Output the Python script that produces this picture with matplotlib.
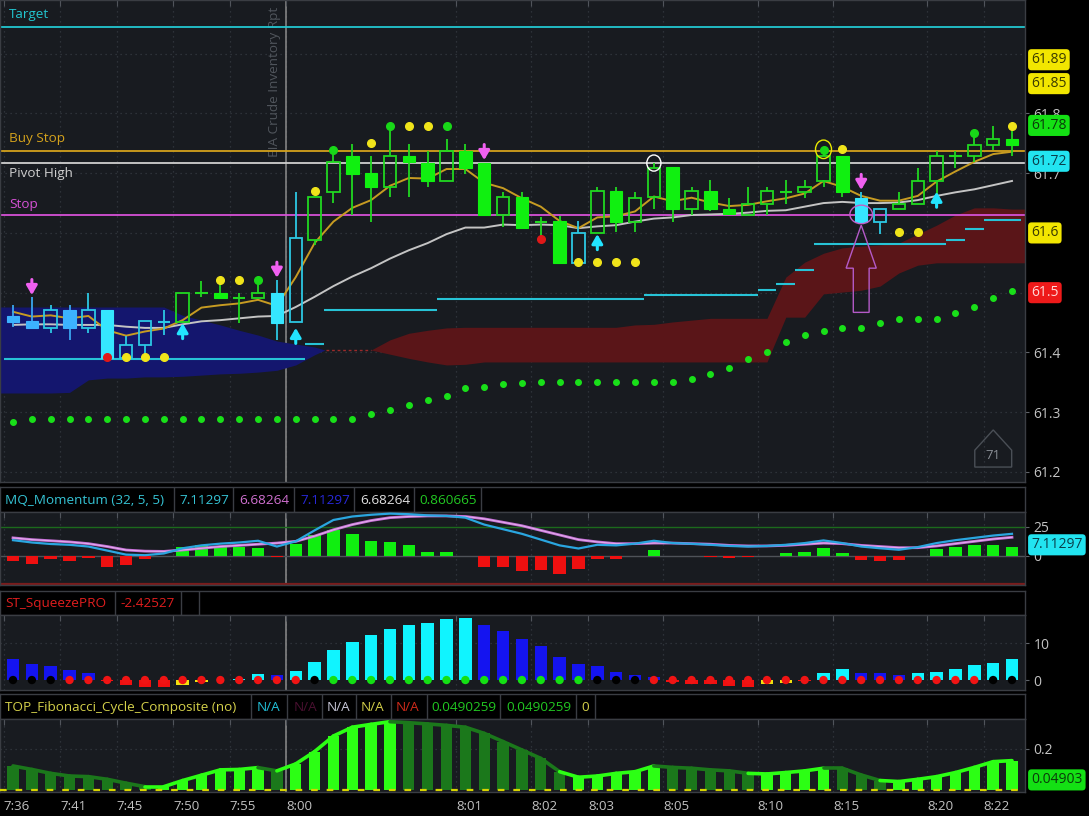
import numpy as np
import matplotlib
matplotlib.use("Agg")
import matplotlib.pyplot as plt
from matplotlib.patches import Rectangle, Ellipse, Polygon
from matplotlib.transforms import blended_transform_factory as blend

plt.rcParams['font.family'] = ['Open Sans', 'DejaVu Sans']

# ---------------- data ----------------
time_ticks = [-0.5, 2.5, 5.5, 8.5, 11.5, 14.5, 23.5, 27.5, 30.5, 34.5, 39.5, 43.5, 48.5, 51.5]
time_labels = ['7:36', '7:41', '7:45', '7:50', '7:55', '8:00', '8:01', '8:02', '8:03',
               '8:05', '8:10', '8:15', '8:20', '8:22']
event_pos = 14.5
event_label = 'EIA Crude Inventory Rpt'

opens = [61.461, 61.452, 61.441, 61.471, 61.441, 61.471, 61.390, 61.412, 61.451, 61.451,
         61.500, 61.500, 61.491, 61.491, 61.500, 61.451, 61.589, 61.669, 61.729, 61.700,
         61.677, 61.729, 61.717, 61.687, 61.738, 61.717, 61.630, 61.660, 61.619, 61.620,
         61.549, 61.600, 61.670, 61.619, 61.661, 61.710, 61.640, 61.670, 61.640, 61.630,
         61.648, 61.669, 61.669, 61.687, 61.729, 61.659, 61.619, 61.640, 61.648, 61.687,
         61.728, 61.728, 61.748, 61.757]
highs = [61.480, 61.493, 61.480, 61.480, 61.500, 61.471, 61.427, 61.452, 61.471, 61.500,
         61.520, 61.521, 61.499, 61.521, 61.521, 61.669, 61.660, 61.739, 61.749, 61.728,
         61.779, 61.749, 61.738, 61.757, 61.749, 61.717, 61.669, 61.669, 61.627, 61.628,
         61.620, 61.677, 61.677, 61.669, 61.717, 61.710, 61.677, 61.689, 61.658, 61.677,
         61.677, 61.689, 61.689, 61.739, 61.729, 61.669, 61.640, 61.669, 61.708, 61.738,
         61.738, 61.767, 61.779, 61.772]
lows = [61.443, 61.439, 61.432, 61.421, 61.432, 61.390, 61.390, 61.392, 61.429, 61.449,
        61.492, 61.491, 61.450, 61.491, 61.421, 61.451, 61.580, 61.650, 61.630, 61.619,
        61.660, 61.660, 61.677, 61.687, 61.698, 61.630, 61.610, 61.608, 61.594, 61.549,
        61.549, 61.600, 61.602, 61.602, 61.640, 61.619, 61.630, 61.636, 61.631, 61.630,
        61.630, 61.648, 61.658, 61.677, 61.661, 61.617, 61.599, 61.640, 61.648, 61.662,
        61.708, 61.718, 61.739, 61.728]
closes = [61.451, 61.441, 61.471, 61.441, 61.471, 61.390, 61.412, 61.452, 61.451, 61.500,
          61.500, 61.491, 61.491, 61.500, 61.450, 61.591, 61.660, 61.718, 61.698, 61.677,
          61.728, 61.718, 61.687, 61.738, 61.708, 61.630, 61.660, 61.608, 61.619, 61.549,
          61.600, 61.670, 61.619, 61.659, 61.708, 61.640, 61.670, 61.640, 61.631, 61.648,
          61.670, 61.669, 61.677, 61.728, 61.669, 61.619, 61.640, 61.648, 61.687, 61.728,
          61.728, 61.748, 61.757, 61.748]
candle_kind = ['b', 'b', 'c', 'b', 'c', 'c', 'c', 'c', 'c', 'g',
               'g', 'g', 'g', 'g', 'c', 'c', 'g', 'g', 'g', 'g',
               'g', 'g', 'g', 'g', 'g', 'g', 'g', 'g', 'g', 'g',
               'c', 'g', 'g', 'g', 'g', 'g', 'g', 'g', 'g', 'g',
               'g', 'g', 'g', 'g', 'g', 'c', 'c', 'g', 'g', 'g',
               'g', 'g', 'g', 'g']

ema_fast = [61.468, 61.460, 61.462, 61.457, 61.461, 61.437, 61.428, 61.435, 61.440, 61.454,
            61.475, 61.479, 61.482, 61.488, 61.478, 61.526, 61.583, 61.619, 61.642, 61.655,
            61.679, 61.692, 61.691, 61.707, 61.707, 61.684, 61.675, 61.658, 61.644, 61.620,
            61.608, 61.626, 61.628, 61.636, 61.661, 61.653, 61.659, 61.651, 61.645, 61.647,
            61.653, 61.658, 61.666, 61.687, 61.677, 61.662, 61.654, 61.654, 61.662, 61.686,
            61.703, 61.719, 61.732, 61.736]
ema_slow = [61.446, 61.447, 61.447, 61.446, 61.446, 61.446, 61.443, 61.441, 61.441, 61.447,
            61.452, 61.454, 61.457, 61.460, 61.461, 61.476, 61.493, 61.511, 61.527, 61.541,
            61.557, 61.571, 61.583, 61.598, 61.609, 61.609, 61.614, 61.613, 61.614, 61.613,
            61.608, 61.611, 61.613, 61.619, 61.624, 61.626, 61.630, 61.631, 61.632, 61.634,
            61.637, 61.638, 61.644, 61.650, 61.652, 61.650, 61.650, 61.651, 61.655, 61.662,
            61.668, 61.673, 61.680, 61.687]
psar = [61.284, 61.288, 61.288, 61.289, 61.289, 61.289, 61.289, 61.289, 61.289, 61.289,
        61.289, 61.289, 61.289, 61.289, 61.289, 61.289, 61.289, 61.289, 61.289, 61.297,
        61.303, 61.312, 61.320, 61.327, 61.340, 61.342, 61.347, 61.349, 61.350, 61.350,
        61.350, 61.350, 61.350, 61.350, 61.350, 61.350, 61.355, 61.364, 61.374, 61.389,
        61.401, 61.417, 61.429, 61.436, 61.441, 61.441, 61.449, 61.456, 61.456, 61.456,
        61.466, 61.476, 61.491, 61.503]
step_level = [61.389, 61.389, 61.389, 61.389, 61.389, 61.389, 61.389, 61.389, 61.389, 61.389,
              61.389, 61.389, 61.389, 61.389, 61.389, 61.389, 61.414, 61.471, 61.471, 61.471,
              61.471, 61.471, 61.471, 61.489, 61.489, 61.489, 61.489, 61.489, 61.489, 61.489,
              61.489, 61.489, 61.489, 61.489, 61.496, 61.496, 61.496, 61.496, 61.496, 61.496,
              61.504, 61.514, 61.538, 61.581, 61.581, 61.581, 61.581, 61.581, 61.581, 61.581,
              61.588, 61.607, 61.622, 61.622]

blue_top = [61.476, 61.476, 61.476, 61.476, 61.476, 61.476, 61.476, 61.476, 61.476,
            61.462, 61.454, 61.446, 61.437, 61.429, 61.419, 61.414, 61.409]
blue_bot = [61.332, 61.332, 61.332, 61.333, 61.354, 61.357, 61.357, 61.359, 61.359,
            61.360, 61.362, 61.364, 61.365, 61.367, 61.370, 61.379, 61.396]
blue_join = 61.404
red_start = 19
red_top = [61.404, 61.421, 61.432, 61.437, 61.441, 61.442, 61.442, 61.442, 61.442, 61.442,
           61.442, 61.442, 61.442, 61.442, 61.446, 61.447, 61.451, 61.454, 61.457, 61.457,
           61.457, 61.457, 61.526, 61.551, 61.566, 61.575, 61.578, 61.580, 61.583, 61.598,
           61.613, 61.630, 61.642, 61.642, 61.640]
red_bot = [61.404, 61.397, 61.390, 61.384, 61.379, 61.380, 61.384, 61.384, 61.384, 61.384,
           61.384, 61.384, 61.384, 61.384, 61.384, 61.384, 61.384, 61.384, 61.384, 61.384,
           61.384, 61.384, 61.459, 61.459, 61.498, 61.501, 61.504, 61.511, 61.533, 61.546,
           61.550, 61.550, 61.550, 61.550, 61.550]

level_names = ['Target', 'Buy Stop', 'Pivot High', 'Stop']
level_values = [61.945, 61.738, 61.717, 61.630]

dot_bars = [6, 7, 8, 11, 12, 16, 19, 21, 22, 30, 31, 32, 33, 44, 47, 48, 53,
            13, 17, 20, 23, 43, 51, 5, 28]
dot_prices = [61.392, 61.392, 61.392, 61.521, 61.521, 61.670, 61.750, 61.779, 61.779,
              61.552, 61.552, 61.552, 61.552, 61.740, 61.601, 61.601, 61.779,
              61.521, 61.739, 61.779, 61.779, 61.739, 61.767, 61.392, 61.590]
dot_kind = ['y'] * 17 + ['g'] * 6 + ['r'] * 2

down_arrow_bars = [1, 14, 25, 45]
down_arrow_tips = [61.496, 61.525, 61.722, 61.672]
up_arrow_bars = [9, 15, 31, 49]
up_arrow_tips = [61.449, 61.441, 61.598, 61.669]

price_ticks = [61.2, 61.3, 61.4, 61.7, 61.8]
price_tags = ['61.89', '61.85', '61.78', '61.72', '61.6', '61.5']
price_tag_values = [61.89, 61.85, 61.78, 61.72, 61.6, 61.5]
bars_remaining = '71'

mom_hist = [-4.9, -7.2, -2.9, -4.9, -2.0, -9.3, -8.1, -2.9, 0.0, 7.2,
            9.6, 7.2, 7.2, 6.7, -1.2, 10.1, 18.3, 22.6, 18.9, 13.1,
            11.9, 9.0, 3.5, 3.5, 0.0, -9.9, -9.9, -13.6, -12.0, -16.0,
            -11.6, -2.9, -2.9, 0.0, 4.6, 0.0, 0.0, -1.2, -2.0, -1.2,
            0.0, 2.0, 3.5, 6.7, 2.0, -3.5, -4.4, -3.5, 0.0, 5.8,
            7.8, 9.0, 9.0, 7.8]
mom_fast = [13.5, 11.5, 10.2, 9.5, 8.0, 4.5, 1.0, 0.5, 2.0, 6.5,
            9.0, 10.5, 11.5, 13.0, 8.0, 12.5, 22.0, 31.0, 34.0, 35.5,
            36.5, 36.0, 35.0, 34.5, 33.0, 27.0, 23.0, 19.0, 14.0, 9.0,
            6.3, 9.5, 9.0, 10.5, 13.0, 11.0, 10.4, 9.5, 8.5, 8.0,
            8.5, 9.5, 11.0, 13.3, 11.0, 8.0, 6.5, 5.2, 7.5, 11.0,
            13.5, 15.5, 17.5, 19.0]
mom_slow = [15.5, 14.0, 13.0, 12.0, 10.5, 8.0, 5.0, 4.0, 3.8, 5.0,
            6.5, 8.0, 9.0, 10.0, 11.0, 12.5, 17.0, 22.5, 27.0, 30.5,
            33.0, 34.0, 34.5, 34.5, 34.0, 32.0, 29.0, 26.0, 22.0, 18.0,
            14.0, 12.0, 10.5, 10.5, 11.0, 11.0, 10.5, 10.0, 9.0, 8.5,
            8.5, 9.0, 10.0, 11.0, 10.5, 9.0, 8.0, 7.0, 7.0, 8.5,
            10.5, 12.5, 14.5, 16.0]
mom_header = ['MQ_Momentum (32, 5, 5)', '7.11297', '6.68264', '7.11297', '6.68264', '0.860665']
mom_tag = '7.11297'
mom_tag_value = 9.5

sq_hist = [5.7, 4.3, 3.7, 2.7, 2.0, -0.2, -1.4, -1.8, -2.0, -1.3,
           -0.4, -0.1, 0.3, 1.6, 1.3, 2.5, 5.0, 8.0, 10.4, 12.1,
           13.8, 14.9, 15.5, 16.4, 16.7, 14.9, 13.4, 11.1, 9.1, 6.1,
           4.3, 3.7, 2.3, 1.35, 0.7, -0.6, -1.0, -1.2, -1.6, -2.0,
           -1.2, -0.8, -0.2, 1.8, 3.0, 1.9, 1.9, 1.4, 1.9, 2.3,
           3.0, 4.0, 4.7, 5.7]
sq_kind = (['bl'] * 5 + ['r'] * 4 + ['y'] * 2 + ['r'] + ['c'] * 2 + ['bl'] + ['c'] * 10 +
           ['bl'] * 10 + ['r'] * 5 + ['y'] * 2 + ['r'] + ['c'] * 2 + ['bl'] * 3 + ['c'] * 6)
sq_dot = (['k'] * 3 + ['r'] * 13 + ['k'] + ['g'] * 14 + ['k'] * 3 + ['r'] * 18 + ['k'] * 2)
sq_header = ['ST_SqueezePRO', '-2.42527']

fib_vals = [0.117, 0.100, 0.081, 0.068, 0.065, 0.052, 0.033, 0.016, 0.016, 0.046,
            0.072, 0.098, 0.100, 0.109, 0.093, 0.127, 0.187, 0.263, 0.306, 0.320,
            0.333, 0.328, 0.322, 0.315, 0.306, 0.276, 0.236, 0.195, 0.154, 0.089,
            0.062, 0.068, 0.081, 0.089, 0.117, 0.110, 0.106, 0.098, 0.093, 0.081,
            0.078, 0.085, 0.093, 0.106, 0.106, 0.073, 0.046, 0.041, 0.052, 0.065,
            0.085, 0.110, 0.138, 0.143]
fib_kind = (['d'] * 8 + ['b'] * 6 + ['d'] + ['b'] * 6 + ['d'] * 9 + ['b'] * 5 + ['d'] * 5 +
            ['b'] * 4 + ['d'] * 3 + ['b'] * 7)
fib_header = ['TOP_Fibonacci_Cycle_Composite (no)', 'N/A', 'N/A', 'N/A', 'N/A', 'N/A',
              '0.0490259', '0.0490259', '0']
fib_tag = '0.04903'
fib_tag_value = 0.049

# ---------------- styling / layout ----------------
W, H = 1089, 816
BG = '#181b20'
GRID = '#353a41'
FRAME = '#3a3d43'
XMIN, XMAX = -0.69, 53.69
n = len(opens)
x = np.arange(n)

fig = plt.figure(figsize=(W / 100, H / 100), dpi=100, facecolor='black')


def px_axes(x0, y0, x1, y1, fc=BG):
    ax = fig.add_axes([x0 / W, 1 - y1 / H, (x1 - x0) / W, (y1 - y0) / H])
    ax.set_facecolor(fc)
    ax.set_xlim(XMIN, XMAX)
    for s in ax.spines.values():
        s.set_color(FRAME)
        s.set_linewidth(1)
    ax.set_xticks([])
    ax.set_yticks([])
    return ax


def plot_panel_common(ax, hgrid):
    for t in time_ticks:
        ax.axvline(t, color=GRID, lw=0.9, ls=(0, (1, 3)), zorder=0.5)
    for h in hgrid:
        ax.axhline(h, color=GRID, lw=0.9, ls=(0, (1, 3)), zorder=0.5)
    ax.axvline(event_pos, color='#8c8c8c', lw=1.1, zorder=0.8)
    ax.set_xticks(time_ticks)
    ax.tick_params(axis='x', bottom=False, top=True, direction='in', length=4,
                   color='#50545b', labelbottom=False)
    ax.yaxis.tick_right()
    ax.tick_params(axis='y', right=True, length=3, color='#60646a',
                   labelcolor='#c2c2c2', labelsize=10, pad=3)


def header(y0, y1, texts, colors, xs, seps):
    ax = px_axes(0, y0, 1025, y1, fc='black')
    ax.set_xlim(0, 1025)
    ax.set_ylim(0, 1)
    for t, c, xp in zip(texts, colors, xs):
        ax.text(xp, 0.47, t, color=c, va='center', ha='left', fontsize=9.7)
    for sx in seps:
        ax.axvline(sx, color=FRAME, lw=1)
    return ax


def tag(ax, value, text, fc, tc):
    ax.text(1.006, value, text, transform=blend(ax.transAxes, ax.transData),
            va='center', ha='left', fontsize=10, color=tc, zorder=20, clip_on=False,
            bbox=dict(boxstyle='round,pad=0.22,rounding_size=0.25', fc=fc, ec='none'))


# ---------------- main price panel ----------------
ax = px_axes(0, 0, 1025, 482)
ax.set_ylim(61.183, 61.990)
plot_panel_common(ax, [61.2, 61.3, 61.4, 61.5, 61.6, 61.7, 61.8, 61.9])
ax.set_yticks(price_ticks)
ax.set_yticklabels([f'{v:.1f}' for v in price_ticks])

# clouds
bx = np.concatenate([[XMIN], np.arange(len(blue_top)), [16.55]])
ax.fill_between(bx, np.concatenate([[blue_top[0]], blue_top, [blue_join]]),
                np.concatenate([[blue_bot[0]], blue_bot, [blue_join]]),
                color='#14166e', lw=0, zorder=1)
rx = np.concatenate([np.arange(red_start, red_start + len(red_top)), [XMAX]])
ax.fill_between(rx, np.concatenate([red_top, [red_top[-1]]]),
                np.concatenate([red_bot, [red_bot[-1]]]),
                color='#5a1518', lw=0, zorder=1)
ax.hlines(red_top[0], 16.6, red_start, colors='#9a2a2a', lw=1, linestyles=(0, (2, 2)), zorder=1)

# horizontal levels
level_colors = ['#22c6d0', '#d4a21c', '#cfcfcf', '#d651d6']
label_offsets = [8.6, 9.0, -7.6, 7.9]
for name, val, col, off in zip(level_names, level_values, level_colors, label_offsets):
    ax.axhline(val, color=col, lw=1.3, zorder=2)
    ax.annotate(name, xy=(0.009, val), xycoords=blend(ax.transAxes, ax.transData),
                xytext=(0, off), textcoords='offset points', color=col,
                fontsize=9.7, va='center', ha='left', zorder=2)

# step resistance
ax.hlines(step_level, x - 0.5, x + 0.5, colors='#27c3d6', lw=1.5, zorder=3)

# psar dots
ax.plot(x, psar, ls='none', marker='o', ms=4, color='#19e019', zorder=3)

# moving averages
ax.plot(x, ema_slow, color='#c4c4c4', lw=1.4, zorder=4)
ax.plot(x, ema_fast, color='#c79b22', lw=1.4, zorder=4)

# candles
edge_cols = {'g': '#20d820', 'c': '#2cc8e4', 'b': '#3aa6f0'}
fill_cols = {'g': '#10f010', 'c': '#35e6ff', 'b': '#3cb2ff'}
bw = 0.66
for i in range(n):
    o, h, l, c = opens[i], highs[i], lows[i], closes[i]
    k = candle_kind[i]
    top, bot = max(o, c), min(o, c)
    if abs(c - o) < 1e-9:
        ax.vlines(i, l, h, color=edge_cols[k], lw=1.3, zorder=5)
        ax.hlines(o, i - bw / 2, i + bw / 2, color=edge_cols[k], lw=1.5, zorder=5)
        continue
    ax.vlines(i, top, h, color=edge_cols[k], lw=1.3, zorder=5)
    ax.vlines(i, l, bot, color=edge_cols[k], lw=1.3, zorder=5)
    if c > o:
        ax.add_patch(Rectangle((i - bw / 2, bot), bw, top - bot, fc='none',
                               ec=edge_cols[k], lw=1.3, zorder=6))
    else:
        ax.add_patch(Rectangle((i - bw / 2, bot), bw, top - bot, fc=fill_cols[k],
                               ec=fill_cols[k], lw=0.8, zorder=6))

# signal dots
dot_cols = {'y': '#f0e41a', 'g': '#18d818', 'r': '#e01818'}
for b, p, k in zip(dot_bars, dot_prices, dot_kind):
    ax.plot(b, p, marker='o', ms=5.5, color=dot_cols[k], ls='none', zorder=7)

# arrows
for b, tip in zip(down_arrow_bars, down_arrow_tips):
    ax.annotate('', xy=(b, tip), xytext=(b, tip + 0.026),
                arrowprops=dict(arrowstyle='-|>,head_width=0.32,head_length=0.55',
                                color='#f060f0', lw=2.2, shrinkA=0, shrinkB=0),
                zorder=8)
for b, tip in zip(up_arrow_bars, up_arrow_tips):
    ax.annotate('', xy=(b, tip), xytext=(b, tip - 0.026),
                arrowprops=dict(arrowstyle='-|>,head_width=0.32,head_length=0.55',
                                color='#22e4ff', lw=2.2, shrinkA=0, shrinkB=0),
                zorder=8)

# highlight shapes
tb = 45
tip = lows[tb] - 0.004
ax.add_patch(Polygon([(tb, tip), (tb + 0.8, tip - 0.072), (tb + 0.42, tip - 0.072),
                      (tb + 0.42, tip - 0.146), (tb - 0.42, tip - 0.146),
                      (tb - 0.42, tip - 0.072), (tb - 0.8, tip - 0.072)],
                     closed=True, fc='none', ec='#b45ac8', lw=1, zorder=8))
ax.add_patch(Ellipse((tb, 61.631), 1.2, 0.031, fill=False, ec='#c060c8', lw=1, zorder=8))
ax.add_patch(Ellipse((34, highs[34]), 0.75, 0.027, fill=False, ec='white', lw=1, zorder=8))
ax.add_patch(Ellipse((43, highs[43] + 0.001), 0.85, 0.031, fill=False, ec='#e8e800', lw=1, zorder=8))

# event text
ax.text(event_pos - 0.62, 61.978, event_label, rotation=90, va='top', ha='center',
        color='#50555c', fontsize=9.7, zorder=1)

# bars-remaining badge
ax.add_patch(Polygon([(0.951, 0.031), (0.951, 0.066), (0.969, 0.108), (0.987, 0.066),
                      (0.987, 0.031)], closed=True, transform=ax.transAxes,
                     fc='none', ec='#4a4f56', lw=1, zorder=9))
ax.text(0.969, 0.055, bars_remaining, transform=ax.transAxes, color='#8a8f96',
        fontsize=9.5, ha='center', va='center', zorder=9)

tag_styles = [('#f2e600', '#3a3a00'), ('#f2e600', '#3a3a00'), ('#14e014', '#0a3a0a'),
              ('#22e4f0', '#0a3e4a'), ('#f2e600', '#3a3a00'), ('#ee1a1a', '#ffd8d8')]
for v, s, (fc, tc) in zip(price_tag_values, price_tags, tag_styles):
    tag(ax, v, s, fc, tc)

# ---------------- momentum panel ----------------
header(487, 512, mom_header,
       ['#35c3d4', '#35c3d4', '#d070d0', '#2828d8', '#e0e0e0', '#22c822'],
       [5, 179, 239, 300, 360, 419], [174, 233, 294, 354, 414, 481])
am = px_axes(0, 512, 1025, 585)
am.set_ylim(-25.3, 37.9)
plot_panel_common(am, [])
am.set_yticks([0, 25])
am.set_yticklabels(['0', '25'])
am.axhline(25, color='#1c6a1c', lw=1, zorder=1)
am.axhline(0, color='#4e5258', lw=1, zorder=1)
am.axhline(-24.8, color='#7a1c1c', lw=1.6, zorder=1)
am.bar(x, mom_hist, width=0.66, color=['#10ee10' if v >= 0 else '#ee1010' for v in mom_hist],
       zorder=2)
am.plot(x, mom_slow, color='#c670d8', lw=2.0, zorder=3)
am.plot(x, mom_slow, color='#f4d8f4', lw=0.6, alpha=0.7, zorder=3)
am.plot(x, mom_fast, color='#2aa6e0', lw=1.6, zorder=4)
tag(am, mom_tag_value, mom_tag, '#22e4f0', '#0a3e4a')

# ---------------- squeeze panel ----------------
header(591, 615, sq_header, ['#e01e1e', '#e01e1e'], [5, 120], [115, 181, 199])
asq = px_axes(0, 615, 1025, 690)
asq.set_ylim(-2.7, 17.6)
plot_panel_common(asq, [10])
asq.set_yticks([0, 10])
asq.set_yticklabels(['0', '10'])
sq_cols = {'bl': '#1414f0', 'c': '#10f4ff', 'r': '#f01010', 'y': '#f0e010'}
asq.bar(x, sq_hist, width=0.66, color=[sq_cols[k] for k in sq_kind], zorder=2)
dcols = {'k': '#000000', 'r': '#f01414', 'g': '#14e014'}
asq.scatter(x, np.zeros(n), s=36, c=[dcols[k] for k in sq_dot], zorder=3, lw=0)

# ---------------- fibonacci panel ----------------
header(694, 719, fib_header,
       ['#d4d04a', '#22c0d8', '#4a1030', '#c8c8d8', '#d4d04a', '#d02a1a',
        '#22c822', '#22c822', '#d4d04a'],
       [5, 257, 294, 327, 361, 396, 431, 506, 581],
       [251, 287, 322, 356, 391, 427, 500, 576, 595])
af = px_axes(0, 719, 1025, 792)
af.set_ylim(-0.01, 0.346)
plot_panel_common(af, [0.2])
af.set_yticks([0.2])
af.set_yticklabels(['0.2'])
fcols = {'b': '#2cff14', 'd': '#1b781b'}
af.bar(x, fib_vals, width=0.6, color=[fcols[k] for k in fib_kind], zorder=2)
for i in range(1, n):
    af.plot([i - 1, i], [fib_vals[i - 1], fib_vals[i]], color=fcols[fib_kind[i]],
            lw=2.6, solid_capstyle='round', zorder=3)
af.axhline(0.0, color='#d8d400', lw=1.6, ls=(0, (3, 4)), zorder=4)
tag(af, fib_tag_value, fib_tag, '#14e014', '#0a3a0a')
af.set_xticklabels(time_labels)
af.tick_params(axis='x', labelbottom=True, labelcolor='#c2c2c2', labelsize=9.5, pad=6)
for lab in af.get_xticklabels():
    lab.set_ha('left')

fig.savefig('out.png', dpi=100, facecolor='black')
